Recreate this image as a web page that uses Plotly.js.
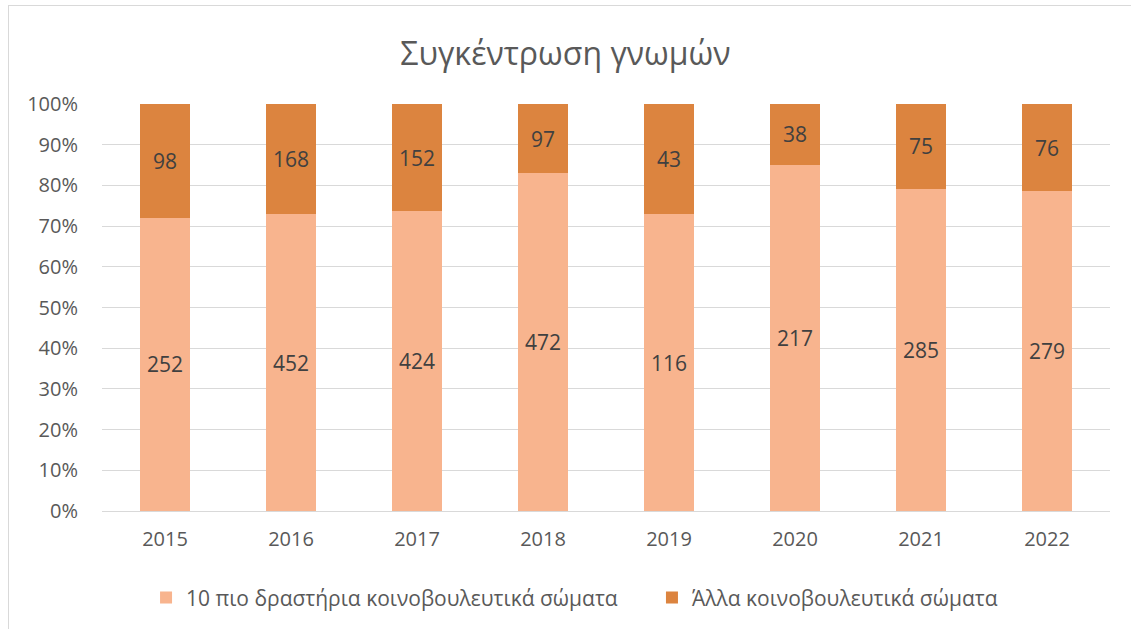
<!DOCTYPE html>
<html>
<head>
<meta charset="utf-8">
<script src="https://cdn.plot.ly/plotly-3.0.1.min.js"></script>
<style>
html,body{margin:0;padding:0;background:#fff;}
#chart{width:1131px;height:629px;}
#frame{position:absolute;left:8px;top:5px;width:1200px;height:700px;border-left:1px solid #d9d9d9;border-top:1px solid #d9d9d9;pointer-events:none;}
</style>
</head>
<body>
<div id="chart"></div>
<div id="frame"></div>
<script>
const years = ['2015','2016','2017','2018','2019','2020','2021','2022'];
const top10 = [252, 452, 424, 472, 116, 217, 285, 279];
const others = [98, 168, 152, 97, 43, 38, 75, 76];
const seriesNames = ['10 πιο δραστήρια κοινοβουλευτικά σώματα', 'Άλλα κοινοβουλευτικά σώματα'];
const tickVals = [0,10,20,30,40,50,60,70,80,90,100];

const font = '"Open Sans", "Noto Sans", sans-serif';
const traces = [
  {type:'bar', name:seriesNames[0], x:years, y:top10, text:top10.map(String),
   textposition:'inside', insidetextanchor:'middle', textangle:0,
   textfont:{size:21, color:'#404040', family:font},
   marker:{color:'#F8B48E'}, hoverinfo:'skip', legend:'legend'},
  {type:'bar', name:seriesNames[1], x:years, y:others, text:others.map(String),
   textposition:'inside', insidetextanchor:'middle', textangle:0,
   textfont:{size:21, color:'#404040', family:font},
   marker:{color:'#DC843F'}, hoverinfo:'skip', legend:'legend2'}
];
const legendBase = {orientation:'h', xanchor:'left', y:-0.16, yanchor:'top',
                    font:{size:21, color:'#595959'}, itemwidth:30, bgcolor:'rgba(0,0,0,0)'};
const layout = {
  width:1131, height:629,
  margin:{l:102, r:21, t:104, b:117},
  barmode:'stack', barnorm:'percent', bargap:0.6,
  paper_bgcolor:'#fff', plot_bgcolor:'#fff',
  font:{family:font, color:'#595959', size:20},
  title:{text:'Συγκέντρωση γνωμών', x:0.5, xanchor:'center', y:0.914, yanchor:'middle',
         font:{size:32, color:'#595959', family:font}},
  xaxis:{type:'category', showgrid:false, zeroline:false, showline:true, linecolor:'#d9d9d9', linewidth:1,
         ticks:'', ticklabelstandoff:10, tickfont:{size:20, color:'#595959'}, fixedrange:true},
  yaxis:{range:[0,100], tickvals:tickVals, ticktext:tickVals.map(v=>v+'%'), showgrid:true, gridcolor:'#d9d9d9', gridwidth:1,
         zeroline:false, showline:false, ticks:'', ticklen:0, ticklabelstandoff:23, tickfont:{size:20, color:'#595959'}, fixedrange:true},
  legend:Object.assign({}, legendBase, {x:0.0437}),
  legend2:Object.assign({}, legendBase, {x:0.5456}),
  showlegend:true
};
Plotly.newPlot('chart', traces, layout, {displayModeBar:false, staticPlot:true});
</script>
</body>
</html>
